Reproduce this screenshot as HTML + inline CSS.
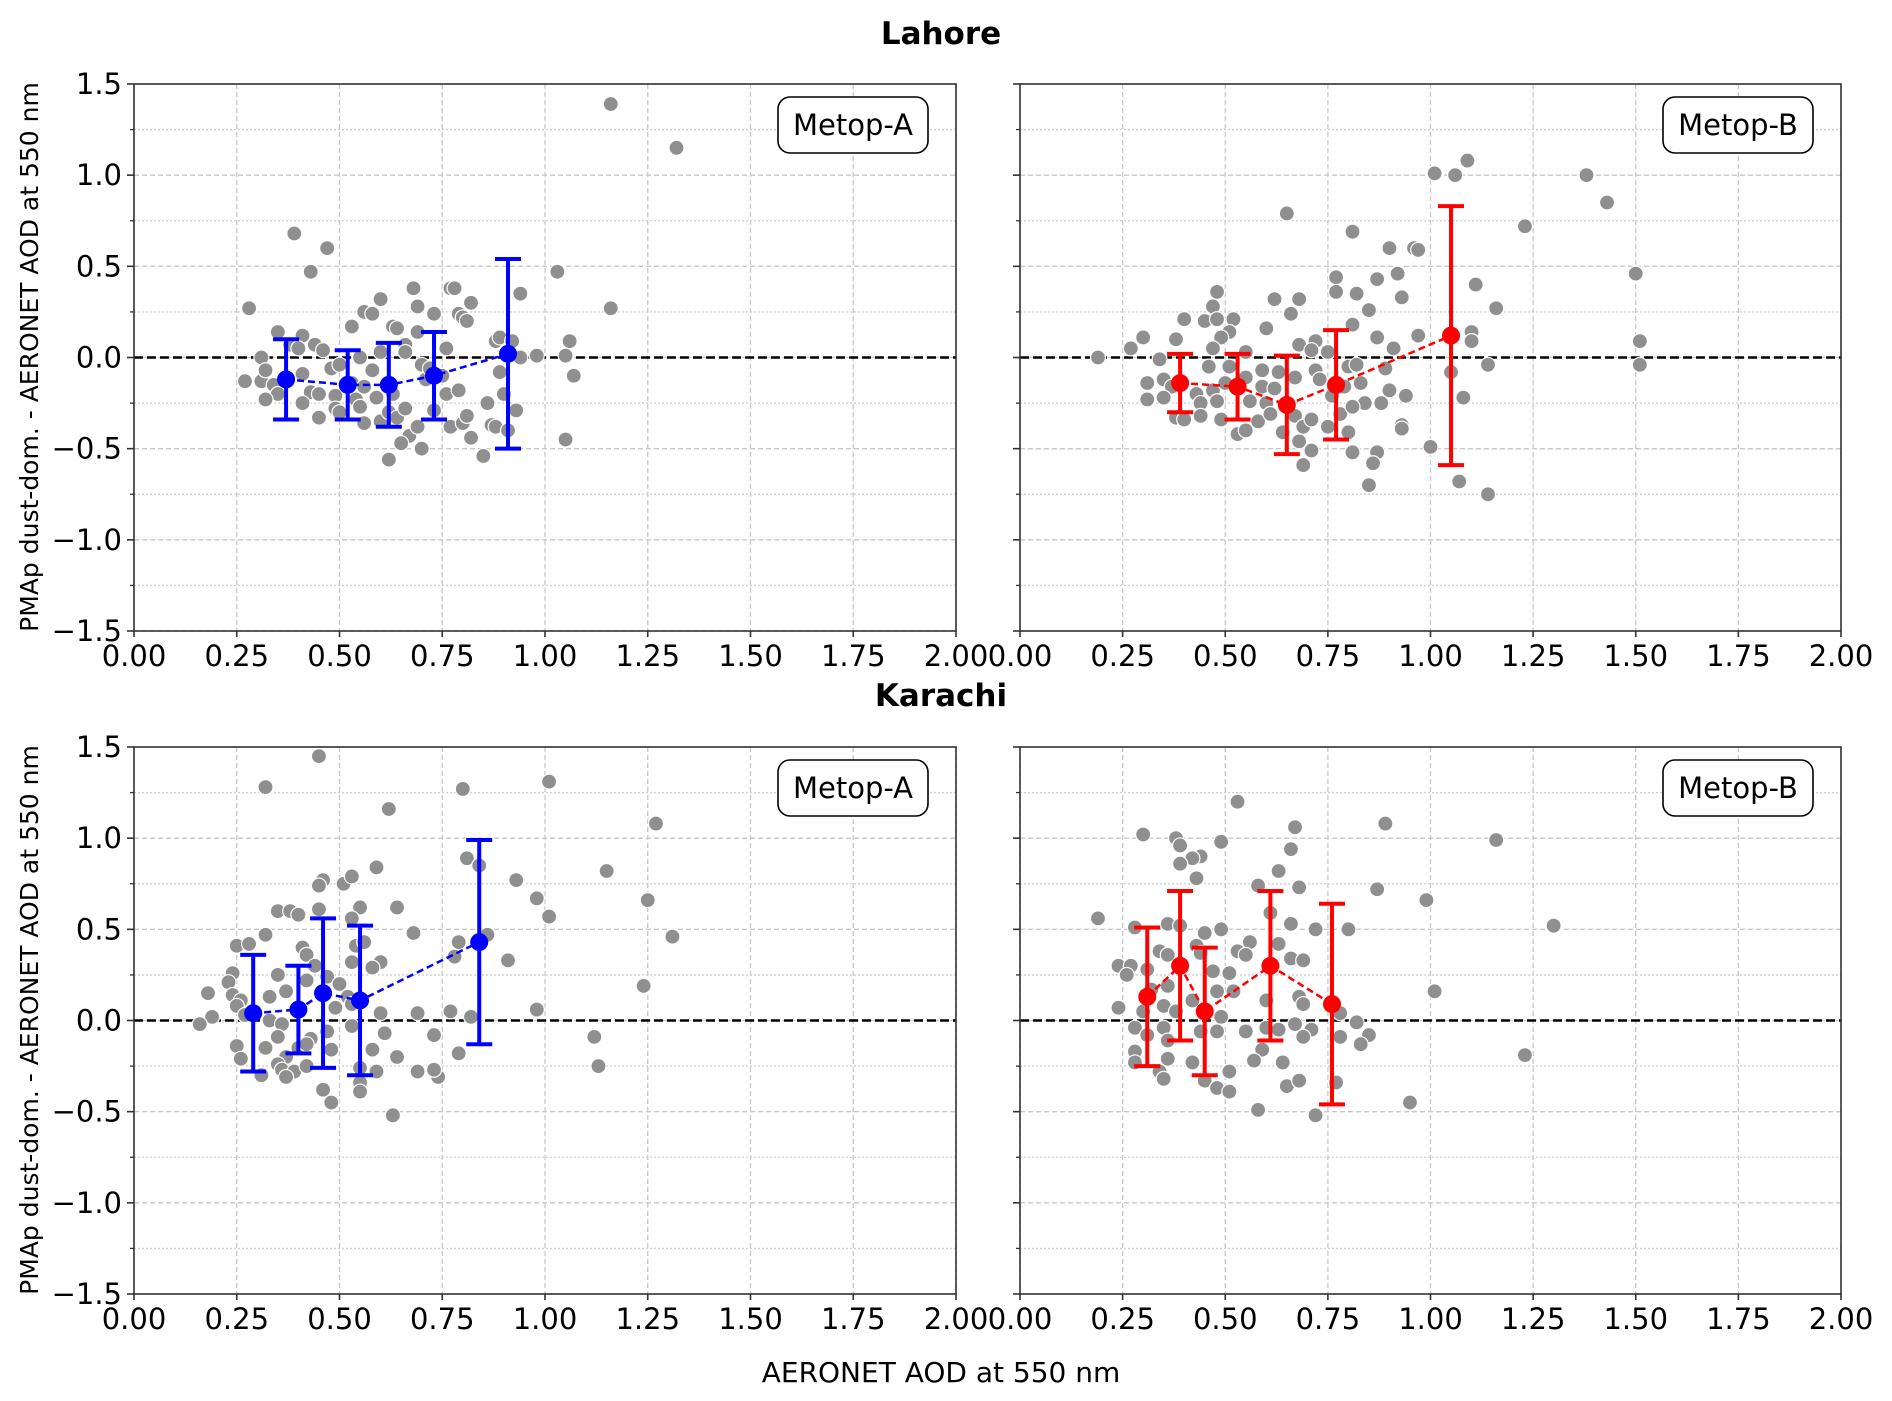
<!DOCTYPE html>
<html><head><meta charset="utf-8">
<style>
html,body{margin:0;padding:0;background:#fff;}
svg{display:block;font-family:"DejaVu Sans","Liberation Sans",sans-serif;}
</style></head>
<body>
<svg id="fig" width="1892" height="1401" viewBox="0 0 1892 1401" xmlns="http://www.w3.org/2000/svg">
<text x="941" y="44" font-size="31" font-weight="bold" text-anchor="middle">Lahore</text>
<text x="941" y="706" font-size="31" font-weight="bold" text-anchor="middle">Karachi</text>
<text x="941" y="1382" font-size="28" text-anchor="middle">AERONET AOD at 550 nm</text>
<text transform="translate(38,357) rotate(-90)" font-size="25" text-anchor="middle">PMAp dust-dom. - AERONET AOD at 550 nm</text>
<text transform="translate(38,1020) rotate(-90)" font-size="25" text-anchor="middle">PMAp dust-dom. - AERONET AOD at 550 nm</text>
</svg>
<script>
// ---- data ----
const xTicks = [0,0.25,0.5,0.75,1.0,1.25,1.5,1.75,2.0];
const xTickLabels = ["0.00","0.25","0.50","0.75","1.00","1.25","1.50","1.75","2.00"];
const yTicks = [-1.5,-1.0,-0.5,0.0,0.5,1.0,1.5];
const yTickLabels = ["\u22121.5","\u22121.0","\u22120.5","0.0","0.5","1.0","1.5"];
const yMinor = [-1.25,-0.75,-0.25,0.25,0.75,1.25];

const lahoreA_x = [1.16,1.32,0.39,0.47,0.43,1.03,0.28,1.16,0.94,0.68,0.77,0.78,0.60,0.82,0.69,0.56,0.58,0.73,0.79,0.80,0.81,0.53,0.63,0.64,0.35,0.41,0.69,0.88,0.89,0.92,1.06,0.76,0.44,0.38,0.46,0.40,0.66,0.31,0.98,1.05,0.94,0.55,0.60,0.66,0.27,0.31,0.32,0.34,0.35,0.32,0.41,0.43,0.41,0.45,0.45,0.48,0.50,0.49,0.49,0.50,0.53,0.54,0.55,0.56,0.56,0.58,0.59,0.60,0.62,0.63,0.64,0.66,0.67,0.65,0.69,0.70,0.62,0.70,0.71,0.73,0.76,0.77,0.79,0.80,0.81,0.82,0.86,0.87,0.88,0.85,0.89,0.90,0.91,0.93,1.05,1.07,0.72,0.75];
const lahoreA_y = [1.39,1.15,0.68,0.60,0.47,0.47,0.27,0.27,0.35,0.38,0.38,0.38,0.32,0.30,0.28,0.25,0.24,0.24,0.24,0.22,0.20,0.17,0.17,0.16,0.14,0.12,0.14,0.09,0.11,0.09,0.09,0.05,0.07,0.07,0.04,0.05,0.07,0.00,0.01,0.01,0.00,0.00,0.03,0.03,-0.13,-0.13,-0.07,-0.15,-0.20,-0.23,-0.09,-0.19,-0.25,-0.20,-0.33,-0.06,-0.04,-0.21,-0.28,-0.30,-0.14,-0.23,-0.27,-0.16,-0.36,-0.07,-0.22,-0.35,-0.30,-0.20,-0.33,-0.28,-0.43,-0.47,-0.38,-0.50,-0.56,-0.04,-0.12,-0.29,-0.20,-0.38,-0.18,-0.36,-0.32,-0.44,-0.25,-0.37,-0.38,-0.54,-0.08,-0.20,-0.40,-0.29,-0.45,-0.10,-0.06,-0.10];
const lahoreA_binX = [0.37,0.52,0.62,0.73,0.91];
const lahoreA_binY = [-0.12,-0.15,-0.15,-0.10,0.02];
const lahoreA_binErr = [0.22,0.19,0.23,0.24,0.52];

const lahoreB_x = [1.09,1.01,1.06,1.38,1.43,0.65,1.23,0.81,0.90,0.96,0.97,1.50,0.92,0.87,0.77,1.11,0.48,0.77,0.82,0.93,0.62,0.68,0.47,1.16,0.85,0.40,0.45,0.48,0.52,0.66,0.60,0.81,0.51,0.49,0.30,0.38,0.87,0.97,1.10,1.10,1.51,0.27,0.68,0.72,0.71,0.91,0.47,0.55,0.19,0.75,1.51,1.14,1.05,0.34,0.46,0.51,0.59,0.63,0.67,0.72,0.80,0.82,0.89,0.31,0.35,0.37,0.43,0.47,0.50,0.55,0.59,0.62,0.73,0.83,0.31,0.35,0.44,0.48,0.56,0.60,0.76,0.79,0.90,0.94,0.84,0.88,1.08,0.38,0.40,0.44,0.49,0.53,0.55,0.58,0.61,0.64,0.67,0.69,0.71,0.75,0.78,0.81,0.80,0.68,0.71,0.81,0.87,0.93,0.93,1.00,0.69,0.86,0.85,1.07,1.14];
const lahoreB_y = [1.08,1.01,1.00,1.00,0.85,0.79,0.72,0.69,0.60,0.60,0.59,0.46,0.46,0.43,0.44,0.40,0.36,0.36,0.35,0.33,0.32,0.32,0.28,0.27,0.26,0.21,0.20,0.21,0.21,0.24,0.16,0.18,0.14,0.11,0.11,0.10,0.11,0.12,0.14,0.09,0.09,0.05,0.07,0.09,0.04,0.05,0.05,0.03,0.00,0.03,-0.04,-0.04,-0.08,-0.01,-0.05,-0.05,-0.07,-0.08,-0.11,-0.07,-0.05,-0.04,-0.06,-0.14,-0.12,-0.16,-0.20,-0.18,-0.14,-0.11,-0.16,-0.17,-0.12,-0.14,-0.23,-0.22,-0.25,-0.24,-0.24,-0.25,-0.21,-0.16,-0.18,-0.21,-0.25,-0.25,-0.22,-0.33,-0.34,-0.32,-0.34,-0.42,-0.40,-0.35,-0.31,-0.41,-0.32,-0.38,-0.34,-0.38,-0.31,-0.27,-0.41,-0.46,-0.51,-0.52,-0.52,-0.37,-0.39,-0.49,-0.59,-0.58,-0.70,-0.68,-0.75];
const lahoreB_binX = [0.39,0.53,0.65,0.77,1.05];
const lahoreB_binY = [-0.14,-0.16,-0.26,-0.15,0.12];
const lahoreB_binErr = [0.16,0.18,0.27,0.30,0.71];

const karachiA_x = [0.45,0.32,0.80,1.01,0.62,1.27,0.81,0.84,0.59,1.15,0.93,0.46,0.45,0.51,0.53,0.98,1.25,1.01,0.35,0.38,0.40,0.45,0.55,0.64,0.32,0.68,0.86,1.31,0.25,0.28,0.53,0.54,0.41,0.42,0.56,0.79,0.78,0.91,0.60,0.58,0.53,0.44,0.24,0.23,0.35,0.42,0.47,0.50,1.24,0.18,0.24,0.33,0.26,0.37,0.52,0.53,0.49,0.25,0.69,0.77,0.98,0.60,0.82,0.19,0.27,0.33,0.36,0.16,0.53,0.47,0.35,0.61,0.73,0.43,0.25,0.32,0.40,0.42,0.37,0.48,0.26,0.35,0.36,0.39,0.42,0.37,0.31,0.58,0.64,0.59,0.69,0.74,0.73,0.79,0.55,0.55,0.55,0.46,0.48,0.63,1.12,1.13];
const karachiA_y = [1.45,1.28,1.27,1.31,1.16,1.08,0.89,0.85,0.84,0.82,0.77,0.77,0.74,0.75,0.79,0.67,0.66,0.57,0.60,0.60,0.58,0.61,0.62,0.62,0.47,0.48,0.47,0.46,0.41,0.42,0.56,0.41,0.40,0.36,0.43,0.43,0.35,0.33,0.32,0.29,0.32,0.30,0.26,0.21,0.25,0.22,0.24,0.20,0.19,0.15,0.14,0.13,0.11,0.16,0.13,0.09,0.07,0.08,0.04,0.05,0.06,0.04,0.02,0.02,0.03,0.00,-0.02,-0.02,-0.03,-0.06,-0.09,-0.07,-0.08,-0.10,-0.14,-0.15,-0.15,-0.13,-0.20,-0.16,-0.21,-0.24,-0.27,-0.28,-0.25,-0.31,-0.30,-0.16,-0.20,-0.28,-0.28,-0.31,-0.27,-0.18,-0.26,-0.34,-0.39,-0.38,-0.45,-0.52,-0.09,-0.25];
const karachiA_binX = [0.29,0.40,0.46,0.55,0.84];
const karachiA_binY = [0.04,0.06,0.15,0.11,0.43];
const karachiA_binErr = [0.32,0.24,0.41,0.41,0.56];

const karachiB_x = [0.53,0.89,0.67,0.30,0.38,1.16,0.49,0.39,0.66,0.44,0.42,0.39,0.63,0.43,0.58,0.68,0.87,0.99,0.61,0.19,1.30,0.28,0.36,0.39,0.66,0.72,0.80,0.45,0.49,0.56,0.53,0.55,0.63,0.34,0.36,0.43,0.44,0.66,0.69,0.24,0.27,0.26,0.31,0.47,0.51,0.36,0.52,0.48,0.32,0.35,0.24,0.30,0.42,1.01,0.68,0.69,0.60,0.38,0.49,0.78,0.82,0.55,0.60,0.63,0.67,0.71,0.28,0.31,0.35,0.44,0.48,0.69,0.78,0.85,0.83,0.36,0.28,0.59,1.23,0.28,0.36,0.42,0.57,0.64,0.34,0.35,0.45,0.51,0.48,0.51,0.65,0.68,0.77,0.95,0.58,0.72];
const karachiB_y = [1.20,1.08,1.06,1.02,1.00,0.99,0.98,0.96,0.94,0.90,0.89,0.86,0.82,0.78,0.74,0.73,0.72,0.66,0.59,0.56,0.52,0.51,0.53,0.52,0.53,0.50,0.50,0.48,0.50,0.43,0.38,0.36,0.42,0.38,0.36,0.41,0.37,0.34,0.33,0.30,0.30,0.25,0.28,0.27,0.26,0.19,0.16,0.16,0.17,0.08,0.07,0.05,0.11,0.16,0.13,0.09,0.11,0.05,0.02,0.04,-0.01,-0.06,-0.04,-0.05,-0.02,-0.05,-0.04,-0.08,-0.04,-0.06,-0.06,-0.09,-0.09,-0.08,-0.13,-0.11,-0.17,-0.16,-0.19,-0.23,-0.21,-0.23,-0.22,-0.23,-0.28,-0.32,-0.33,-0.28,-0.37,-0.39,-0.36,-0.33,-0.34,-0.45,-0.49,-0.52];
const karachiB_binX = [0.31,0.39,0.45,0.61,0.76];
const karachiB_binY = [0.13,0.30,0.05,0.30,0.09];
const karachiB_binErr = [0.38,0.41,0.35,0.41,0.55];

const NS = "http://www.w3.org/2000/svg";
const svg = document.getElementById('fig');
function mk(tag, attrs, parent){
  const e = document.createElementNS(NS, tag);
  for (const k in attrs) e.setAttribute(k, attrs[k]);
  (parent||svg).appendChild(e);
  return e;
}

function panel(name, L, R, T, B, xs, ys, bx, by, be, color, label, showY){
  const g = mk('g', {});
  
  
  const sx = v => L + (v - 0) / 2 * (R - L);
  const sy = v => B - (v + 1.5) / 3 * (B - T);
  xTicks.forEach(v => {
    const l = mk('line', {x1:sx(v), x2:sx(v), y1:T, y2:B, stroke:'#c8c8c8', 'stroke-width':1.3, 'stroke-dasharray':'5,3'}, g);
    
    
  });
  yTicks.forEach(v => {
    const l = mk('line', {x1:L, x2:R, y1:sy(v), y2:sy(v), stroke:'#c8c8c8', 'stroke-width':1.3, 'stroke-dasharray':'5,3'}, g);
    
    
  });
  yMinor.forEach(v => {
    const l = mk('line', {x1:L, x2:R, y1:sy(v), y2:sy(v), stroke:'#cfcfcf', 'stroke-width':1.3, 'stroke-dasharray':'2,2'}, g);
    
    
    const t = mk('line', {x1:L-4, x2:L, y1:sy(v), y2:sy(v), stroke:'#333', 'stroke-width':1.3}, g);
    
    
  });
  const z = mk('line', {x1:L, x2:R, y1:sy(0), y2:sy(0), stroke:'#000', 'stroke-width':2.6, 'stroke-dasharray':'9,4'}, g);
  
  
  for (let i = 0; i < xs.length; i++){
    const c = mk('circle', {cx:sx(xs[i]), cy:sy(ys[i]), r:7.5, fill:'#8f8f8f', stroke:'#fff', 'stroke-width':1.2}, g);
    
    
  }
  const pts = bx.map((v,i) => sx(v) + ',' + sy(by[i])).join(' ');
  const pl = mk('polyline', {points:pts, fill:'none', stroke:color, 'stroke-width':2.5, 'stroke-dasharray':'7,4'}, g);
  
  
  for (let i = 0; i < bx.length; i++){
    const x = sx(bx[i]), y1 = sy(by[i] + be[i]), y2 = sy(by[i] - be[i]);
    const eb = mk('path', {d:`M${x},${y1}V${y2}M${x-13},${y1}H${x+13}M${x-13},${y2}H${x+13}`, stroke:color, 'stroke-width':4, fill:'none'}, g);
    
    
    const m = mk('circle', {cx:x, cy:sy(by[i]), r:9, fill:color}, g);
    
    
  }
  const fr = mk('rect', {x:L, y:T, width:R-L, height:B-T, fill:'none', stroke:'#333', 'stroke-width':1.6}, g);
  
  
  xTicks.forEach((v,i) => {
    const t = mk('line', {x1:sx(v), x2:sx(v), y1:B, y2:B+6, stroke:'#333', 'stroke-width':1.6}, g);
    
    
    const tx = mk('text', {x:sx(v), y:B+35, 'font-size':29, 'text-anchor':'middle'}, g);
    
    
    tx.textContent = xTickLabels[i];
  });
  yTicks.forEach((v,i) => {
    const t = mk('line', {x1:L-7, x2:L, y1:sy(v), y2:sy(v), stroke:'#333', 'stroke-width':1.6}, g);
    
    
    if (showY){
      const tx = mk('text', {x:L-12, y:sy(v)+10, 'font-size':29, 'text-anchor':'end'}, g);
      
      
      tx.textContent = yTickLabels[i];
    }
  });
  const lg = mk('g', {}, g);
  
  
  mk('rect', {x:R-178, y:T+13, width:150, height:56, rx:12, fill:'#fff', stroke:'#000', 'stroke-width':1.6}, lg);
  const lt = mk('text', {x:R-103, y:T+51, 'font-size':29, 'text-anchor':'middle'}, lg);
  
  
  lt.textContent = label;
}

panel('panel-lahore-metop-a', 134, 956, 84, 631, lahoreA_x, lahoreA_y, lahoreA_binX, lahoreA_binY, lahoreA_binErr, '#0000ff', 'Metop-A', true);
panel('panel-lahore-metop-b', 1020, 1841, 84, 631, lahoreB_x, lahoreB_y, lahoreB_binX, lahoreB_binY, lahoreB_binErr, '#ff0000', 'Metop-B', false);
panel('panel-karachi-metop-a', 134, 956, 747, 1294, karachiA_x, karachiA_y, karachiA_binX, karachiA_binY, karachiA_binErr, '#0000ff', 'Metop-A', true);
panel('panel-karachi-metop-b', 1020, 1841, 747, 1294, karachiB_x, karachiB_y, karachiB_binX, karachiB_binY, karachiB_binErr, '#ff0000', 'Metop-B', false);
</script>
</body></html>
